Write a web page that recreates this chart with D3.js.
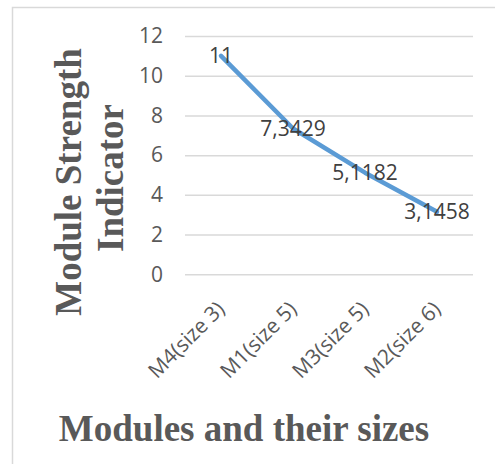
<!DOCTYPE html>
<html>
<head>
<meta charset="utf-8">
<script src="https://cdn.jsdelivr.net/npm/d3@7"></script>
<style>
  html, body { margin: 0; padding: 0; background: #fff; }
  svg { display: block; }
</style>
</head>
<body>
<svg id="chart" width="495" height="464"></svg>
<script>
// Module strength indicator per module
const categories = ["M4(size 3)", "M1(size 5)", "M3(size 5)", "M2(size 6)"];
const values = [11, 7.3429, 5.1182, 3.1458];
const valueLabels = ["11", "7,3429", "5,1182", "3,1458"];
const yTicks = [0, 2, 4, 6, 8, 10, 12];

const svg = d3.select("#chart");
const W = 495, H = 464;

// chart area frame (open on right/bottom edges)
svg.append("rect")
  .attr("x", 12.5).attr("y", 7.5)
  .attr("width", W).attr("height", H)
  .attr("fill", "#fff")
  .attr("stroke", "#d9d9d9").attr("stroke-width", 1.5);

const plot = { left: 185, right: 473, top: 36, bottom: 274.3 };

const x = d3.scaleBand().domain(categories).range([plot.left, plot.right]);
const y = d3.scaleLinear().domain([0, 12]).range([plot.bottom, plot.top]);

const sans = "'Open Sans', sans-serif";
const serif = "'Liberation Serif', 'Times New Roman', serif";
const sansSize = "21px";

// gridlines + y tick labels
const yAxis = d3.axisLeft(y)
  .tickValues(yTicks)
  .tickSize(-(plot.right - plot.left))
  .tickPadding(22)
  .tickFormat(d3.format("d"));

const gy = svg.append("g")
  .attr("transform", `translate(${plot.left},0)`)
  .call(yAxis);
gy.select(".domain").remove();
gy.selectAll(".tick line").attr("stroke", "#d9d9d9").attr("stroke-width", 1.5);
gy.selectAll(".tick text")
  .attr("fill", "#595959")
  .style("font-family", sans)
  .style("font-size", sansSize);

// category axis with rotated labels
const xAxis = d3.axisBottom(x).tickSize(0).tickPadding(0);
const gx = svg.append("g")
  .attr("transform", `translate(0,${plot.bottom})`)
  .call(xAxis);
gx.select(".domain").remove();
gx.selectAll(".tick text")
  .attr("fill", "#595959")
  .style("font-family", sans)
  .style("font-size", sansSize)
  .attr("text-anchor", "end")
  .attr("dy", 0)
  .attr("y", 0)
  .attr("transform", "translate(5,36) rotate(-45)");

// the series line
const line = d3.line()
  .x((d, i) => x(categories[i]) + x.bandwidth() / 2)
  .y(d => y(d));

svg.append("path")
  .datum(values)
  .attr("d", line)
  .attr("fill", "none")
  .attr("stroke", "#5b9bd5")
  .attr("stroke-width", 4.5)
  .attr("stroke-linecap", "round")
  .attr("stroke-linejoin", "round");

// data labels
svg.append("g")
  .selectAll("text")
  .data(values)
  .join("text")
  .attr("x", (d, i) => x(categories[i]) + x.bandwidth() / 2)
  .attr("y", d => y(d))
  .attr("dy", "0.35em")
  .attr("text-anchor", "middle")
  .attr("fill", "#404040")
  .style("font-family", sans)
  .style("font-size", sansSize)
  .text((d, i) => valueLabels[i]);

// axis titles
svg.append("text")
  .attr("x", 244).attr("y", 441)
  .attr("text-anchor", "middle")
  .attr("fill", "#595959")
  .style("font-family", serif)
  .style("font-weight", "bold")
  .style("font-size", "37px")
  .text("Modules and their sizes");

const yt = svg.append("text")
  .attr("transform", "translate(81,182) rotate(-90)")
  .attr("text-anchor", "middle")
  .attr("fill", "#595959")
  .style("font-family", serif)
  .style("font-weight", "bold")
  .style("font-size", "37px");
yt.append("tspan").attr("x", 0).attr("y", 0).text("Module Strength");
yt.append("tspan").attr("x", 4).attr("y", 42).text("Indicator");
</script>
</body>
</html>
